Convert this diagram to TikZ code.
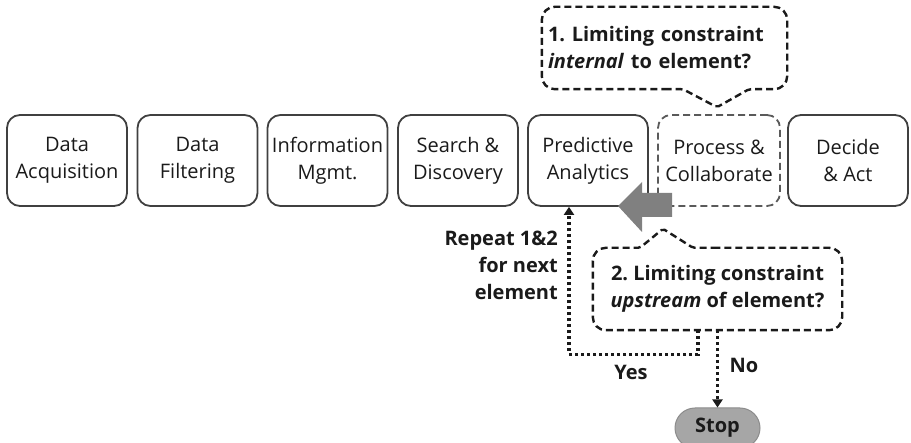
\documentclass[tikz,border=0pt]{standalone}
\usepackage{fontspec}
\setmainfont{Open Sans}
\usetikzlibrary{arrows.meta,calc}
\frenchspacing

\definecolor{boxline}{HTML}{404040}
\definecolor{dashline}{HTML}{5A5A5A}
\definecolor{inkblack}{HTML}{1A1A1A}
\definecolor{arrowgray}{HTML}{808080}
\definecolor{stopfill}{HTML}{A6A6A6}
\definecolor{stopline}{HTML}{8C8C8C}

\begin{document}
\begin{tikzpicture}[x=1pt,y=-1pt,
  stage/.style={draw=boxline, line width=1.8pt, rounded corners=13pt,
    minimum width=120pt, minimum height=91pt, inner sep=0pt,
    align=center, text=inkblack, font=\fontsize{20}{27}\selectfont},
  stagedashed/.style={stage, draw=dashline, dash pattern=on 7pt off 4pt},
  callout/.style={draw=inkblack, line width=2.4pt, dash pattern=on 7pt off 4pt},
  calltext/.style={minimum height=82pt, inner ysep=0pt, text=inkblack,
    font=\bfseries\fontsize{20}{27}\selectfont},
  label/.style={text=inkblack, font=\bfseries\fontsize{20}{27}\selectfont, inner sep=0pt},
  dotarrow/.style={draw=inkblack, line width=3.2pt, dash pattern=on 3pt off 3pt,
    -{Triangle[width=10pt,length=8pt]}},
  stopbox/.style={draw=stopline, fill=stopfill, line width=1pt, rounded corners=20pt,
    minimum width=85pt, minimum height=40pt, text=inkblack,
    font=\bfseries\fontsize{20}{24}\selectfont}
]
\useasboundingbox (0,0) rectangle (911,443);

% value chain stages
\node[stage] (s1) at (67,160.5) {Data\\Acquisition};
\node[stage] (s2) at (197.5,160.5) {Data\\Filtering};
\node[stage] (s3) at (327.5,160.5) {Information\\Mgmt.};
\node[stage] (s4) at (458,160.5) {Search \&\\Discovery};
\node[stage] (s5) at (588,160.5) {Predictive\\Analytics};
\node[stagedashed, minimum width=122pt] (s6) at (719,160.5) {Process \&\\Collaborate};
\node[stage] (s7) at (848,160.5) {Decide\\\& Act};

% step back from the current element to the upstream one
\fill[arrowgray] (618,206) -- (642,182) -- (642,193) -- (672,193)
  -- (672,217) -- (642,217) -- (642,232) -- cycle;

% question 1
\node[calltext, minimum width=245pt, text width=233pt, inner xsep=6pt, align=left]
  (c1) at (664.5,48) {1. Limiting constraint\\\textit{internal} to element?};
\draw[callout, rounded corners=2pt] (c1.south) -- +(18.5,0) -- +(52.5,18)
  -- +(84.5,0) -- +(90,0) [rounded corners=13pt] -- (c1.south east)
  -- (c1.north east) -- (c1.north west) -- (c1.south west) -- (c1.south);

% question 2
\node[calltext, minimum width=249pt, align=center]
  (c2) at (717.5,289) {2. Limiting constraint\\\textit{upstream} of element?};
\draw[callout, rounded corners=2pt] (c2.north) -- +(-20,0) -- +(-24.5,0)
  -- +(-54.5,-19) -- +(-77.5,0) -- +(-83,0) [rounded corners=13pt]
  -- (c2.north west) -- (c2.south west) -- (c2.south east)
  -- (c2.north east) -- (c2.north);

% stop terminal
\node[stopbox] (stop) at (717.5,428) {Stop};

% answers
\draw[dotarrow] ([xshift=-19.5pt]c2.south) -- ++(0,24) -| ([xshift=-19pt]s5.south);
\draw[dotarrow] (c2.south) -- (stop.north);

\node[label, anchor=east, align=right] (rep) at (558,265)
  {Repeat 1\&2\\for next\\element};
\node[label] (yes) at (631,372) {Yes};
\node[label] (no) at (744,365) {No};
\end{tikzpicture}
\end{document}
